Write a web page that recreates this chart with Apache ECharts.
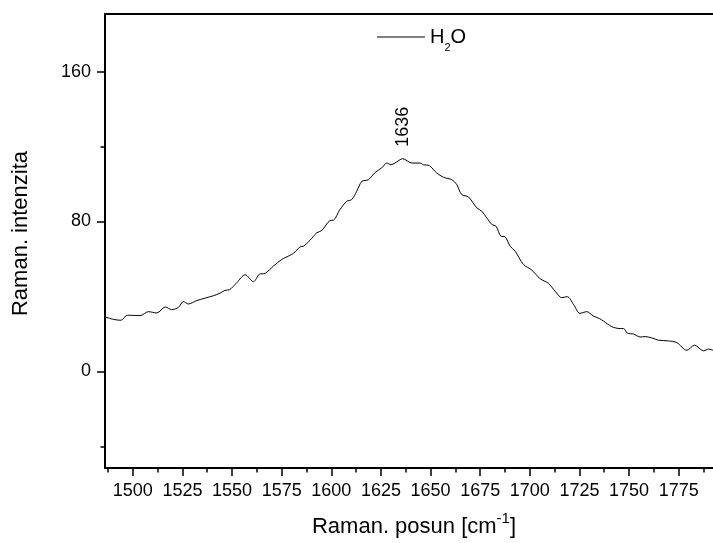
<!DOCTYPE html>
<html>
<head>
<meta charset="utf-8">
<script src="https://cdn.jsdelivr.net/npm/echarts@6/dist/echarts.min.js"></script>
<style>
html,body{margin:0;padding:0;background:#fff;}
#chart{width:713px;height:543px;}
</style>
</head>
<body>
<div id="chart"></div>
<script>
// Raman shift [cm^-1]
var waveNumbers = [1486.0,1490.2,1494.0,1497.3,1503.7,1507.9,1512.1,1516.4,1519.6,1523.0,1525.5,1528.0,1532.2,1540.6,1544.0,1546.5,1548.7,1552.4,1556.6,1560.8,1563.8,1566.6,1570.8,1575.1,1576.7,1580.9,1584.3,1585.9,1589.3,1592.7,1595.2,1599.4,1601.1,1604.4,1607.8,1610.3,1612.8,1615.4,1618.7,1622.1,1625.4,1628.0,1630.0,1632.1,1636.0,1640.6,1644.7,1646.4,1649.4,1653.1,1656.5,1660.7,1663.2,1665.7,1669.1,1673.3,1675.8,1678.3,1680.9,1683.0,1685.4,1687.6,1690.1,1692.6,1696.8,1701.0,1705.2,1709.4,1712.7,1716.1,1718.9,1722.0,1725.3,1728.7,1732.0,1735.1,1737.1,1741.3,1745.5,1747.2,1749.2,1752.2,1755.6,1758.1,1761.5,1764.8,1769.9,1774.1,1779.1,1783.0,1787.6,1790.1,1792.3];
// Raman intensity (H2O)
var intensities = [29.1,27.8,27.3,30.0,29.8,31.9,31.2,34.4,33.0,34.2,37.3,36.0,37.8,40.4,41.8,43.3,43.6,47.4,51.6,47.9,51.9,52.3,56.2,59.8,60.7,63.0,66.5,66.8,70.0,74.0,75.2,80.5,80.7,86.4,90.8,91.7,96.1,101.4,102.3,106.2,108.6,111.2,110.3,111.2,113.5,111.2,111.2,110.3,109.8,105.9,103.6,102.3,99.7,94.4,93.1,87.3,85.5,82.0,78.4,77.5,72.2,71.8,66.8,64.2,57.1,54.1,49.5,47.0,42.9,39.4,39.9,35.8,31.0,31.9,29.6,28.2,26.9,23.9,22.9,22.9,20.4,20.0,18.4,18.6,17.9,16.7,16.3,15.4,11.3,14.0,11.0,11.9,11.3];

var xMajorTicks = [1500,1525,1550,1575,1600,1625,1650,1675,1700,1725,1750,1775];
var xMinorTicks = [1487.5,1512.5,1537.5,1562.5,1587.5,1612.5,1637.5,1662.5,1687.5,1712.5,1737.5,1762.5,1787.5];
var yMajorTicks = [0,80,160];
var yMinorTicks = [-40,120];
var xRange = [1486, 1792.3];
var yRange = [-51.5, 190.7];
var peakPosition = 1636;
var peakIntensity = 113.5;
var seriesName = 'H2O';

var FONT = '"Liberation Sans", Arial, sans-serif';
var points = waveNumbers.map(function (w, i) { return [w, intensities[i]]; });
function plain(v) { return String(v); }

var chart = echarts.init(document.getElementById('chart'), null, {renderer: 'canvas'});
chart.setOption({
  animation: false,
  backgroundColor: '#fff',
  grid: {left: 105, top: 14, right: 0, bottom: 74, containLabel: false},
  legend: {
    left: 377, top: 21, padding: 0,
    icon: 'rect',
    itemWidth: 48, itemHeight: 1,
    data: [seriesName],
    formatter: function () { return '{a|H}{s|2}{a|O}'; },
    textStyle: {
      color: '#000', fontFamily: FONT,
      rich: {
        a: {fontSize: 20, lineHeight: 20, fontFamily: FONT, color: '#000', verticalAlign: 'middle'},
        s: {fontSize: 11, lineHeight: 11, fontFamily: FONT, color: '#000', verticalAlign: 'middle', padding: [21, 0, 0, 0]}
      }
    }
  },
  xAxis: [
    {
      type: 'value', min: xRange[0], max: xRange[1], position: 'bottom',
      name: '{a|Raman. posun [cm}{s|-1}{a|]}',
      nameLocation: 'middle', nameGap: 43,
      nameTextStyle: {
        padding: [0, 0, 0, 10],
        rich: {
          a: {fontSize: 22, lineHeight: 22, fontFamily: FONT, color: '#000', verticalAlign: 'top', padding: [5, 0, 0, 0]},
          s: {fontSize: 15, lineHeight: 15, fontFamily: FONT, color: '#000', verticalAlign: 'top'}
        }
      },
      axisLine: {show: true, onZero: false, lineStyle: {color: '#000', width: 2}},
      axisTick: {show: true, inside: false, length: 8, customValues: xMajorTicks, lineStyle: {color: '#000', width: 1.5}},
      axisLabel: {show: true, margin: 14, customValues: xMajorTicks, formatter: plain, fontSize: 18, fontFamily: FONT, color: '#000'},
      splitLine: {show: false}
    },
    {
      type: 'value', min: xRange[0], max: xRange[1], position: 'bottom',
      axisLine: {show: false, onZero: false},
      axisTick: {show: true, inside: false, length: 4.5, customValues: xMinorTicks, lineStyle: {color: '#000', width: 1.5}},
      axisLabel: {show: false},
      splitLine: {show: false}
    },
    {
      type: 'value', min: xRange[0], max: xRange[1], position: 'top',
      axisLine: {show: true, onZero: false, lineStyle: {color: '#000', width: 2}},
      axisTick: {show: false},
      axisLabel: {show: false},
      splitLine: {show: false}
    }
  ],
  yAxis: [
    {
      type: 'value', min: yRange[0], max: yRange[1], position: 'left',
      name: 'Raman. intenzita',
      nameLocation: 'middle', nameGap: 73, nameRotate: 90,
      nameTextStyle: {fontSize: 22, fontFamily: FONT, color: '#000', padding: [0, 0, 0, 15]},
      axisLine: {show: true, onZero: false, lineStyle: {color: '#000', width: 2}},
      axisTick: {show: true, inside: false, length: 8, customValues: yMajorTicks, lineStyle: {color: '#000', width: 1.5}},
      axisLabel: {show: true, margin: 14, customValues: yMajorTicks, formatter: plain, fontSize: 18, fontFamily: FONT, color: '#000'},
      splitLine: {show: false}
    },
    {
      type: 'value', min: yRange[0], max: yRange[1], position: 'left',
      axisLine: {show: false, onZero: false},
      axisTick: {show: true, inside: false, length: 4.5, customValues: yMinorTicks, lineStyle: {color: '#000', width: 1.5}},
      axisLabel: {show: false},
      splitLine: {show: false}
    }
  ],
  series: [{
    name: seriesName,
    type: 'line',
    xAxisIndex: 0, yAxisIndex: 0,
    data: points,
    symbol: 'none',
    smooth: 0.3,
    clip: true,
    lineStyle: {color: '#000', width: 1},
    itemStyle: {color: '#000'},
    markPoint: {
      symbol: 'circle', symbolSize: 0,
      silent: true,
      data: [{coord: [peakPosition, peakIntensity], value: peakPosition}],
      label: {
        show: true, position: 'top', distance: 12, rotate: 90,
        align: 'left', verticalAlign: 'middle',
        formatter: String(peakPosition),
        fontSize: 18, fontFamily: FONT, color: '#000'
      }
    }
  }]
});
</script>
</body>
</html>
